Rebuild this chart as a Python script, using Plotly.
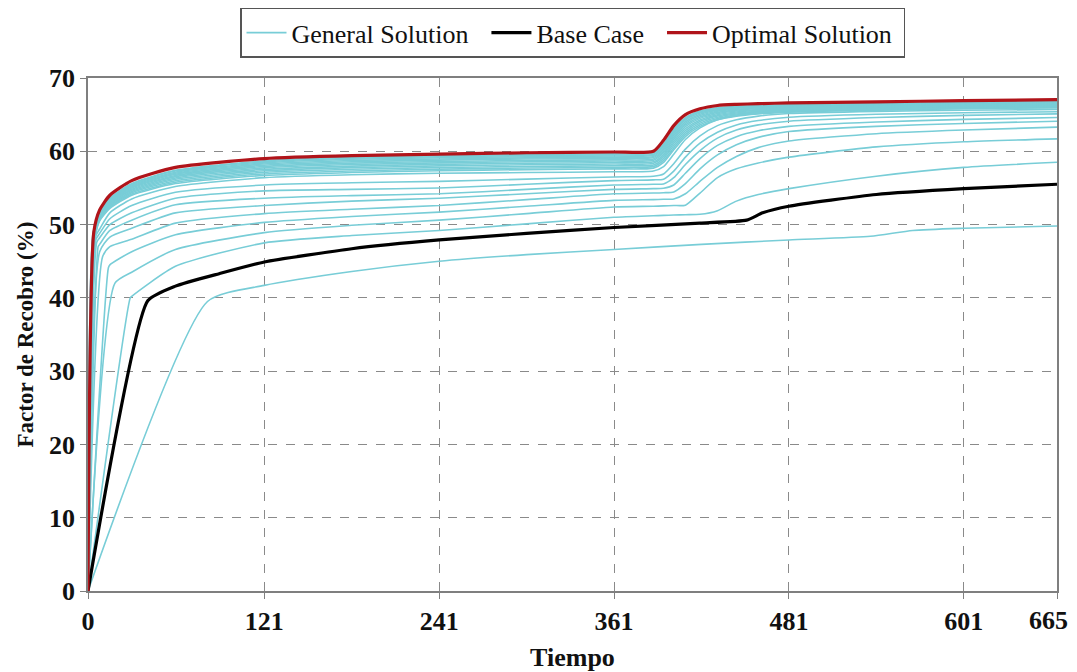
import plotly.graph_objects as go

# ---------------- data ----------------
GRID_T = [8, 15, 30, 60, 121, 181, 241, 301, 361, 388, 395, 402, 410, 420, 432, 445, 460, 481, 541, 601, 665]

# Optimal solution (red)
OPT_KNEE = (4, 49.0)
OPT_VALUES = [52.0, 54.0, 56.0, 57.8, 59.0, 59.4, 59.6, 59.8, 59.9, 60.0, 61.5, 63.5, 65.0, 65.8, 66.25,
              66.4, 66.5, 66.6, 66.75, 66.9, 67.05]

# Base case (black)
BASE_T = [0, 41, 60, 90, 121, 181, 241, 301, 361, 420, 452, 463, 481, 541, 601, 665]
BASE_V = [0, 39.6, 41.6, 43.3, 44.9, 46.7, 47.9, 48.8, 49.6, 50.2, 50.6, 51.6, 52.5, 54.1, 54.9, 55.5]

# General solutions (cyan): knee of the initial ramp, then values on GRID_T (None = before knee)
GEN_KNEE_T = [3.5, 3.6, 3.7, 3.8, 3.9, 4.0, 4.2, 4.4, 4.6, 4.8, 5.0, 5.2,
              5.0, 5.5, 6.0, 7.0, 8.0, 10, 14, 18.5, 29]
GEN_KNEE_V = [48.9, 48.9, 48.8, 48.8, 48.8, 48.7, 48.7, 48.7, 48.6, 48.6, 48.5, 48.5,
              48.3, 48.0, 47.6, 47.0, 46.3, 45.6, 44.1, 42.0, 40.0]
GEN_VALUES = [
    [51.6, 53.6, 55.6, 57.4, 58.7, 59.2, 59.4, 59.55, 59.65, 59.75, 61.0, 63.0, 64.6, 65.5, 65.95, 66.15, 66.25, 66.35, 66.5, 66.65, 66.8],
    [51.5, 53.5, 55.5, 57.3, 58.56, 59.05, 59.26, 59.41, 59.51, 59.61, 60.83, 62.8, 64.42, 65.35, 65.83, 66.06, 66.17, 66.28, 66.44, 66.59, 66.74],
    [51.45, 53.4, 55.38, 57.15, 58.42, 58.91, 59.11, 59.26, 59.36, 59.46, 60.65, 62.61, 64.24, 65.21, 65.72, 65.96, 66.09, 66.21, 66.37, 66.53, 66.68],
    [51.36, 53.29, 55.25, 57.0, 58.26, 58.74, 58.95, 59.1, 59.2, 59.3, 60.45, 62.38, 64.03, 65.04, 65.59, 65.85, 66.0, 66.13, 66.3, 66.46, 66.61],
    [51.27, 53.18, 55.12, 56.86, 58.1, 58.57, 58.79, 58.94, 59.04, 59.14, 60.25, 62.16, 63.82, 64.87, 65.46, 65.75, 65.9, 66.05, 66.23, 66.4, 66.55],
    [51.17, 53.05, 54.98, 56.7, 57.92, 58.38, 58.6, 58.75, 58.85, 58.95, 60.03, 61.91, 63.59, 64.68, 65.31, 65.62, 65.8, 65.96, 66.15, 66.32, 66.47],
    [51.07, 52.93, 54.83, 56.54, 57.74, 58.19, 58.42, 58.57, 58.67, 58.77, 59.8, 61.66, 63.35, 64.49, 65.16, 65.5, 65.7, 65.87, 66.07, 66.24, 66.39],
    [50.96, 52.79, 54.67, 56.36, 57.54, 57.98, 58.21, 58.36, 58.46, 58.56, 59.55, 61.38, 63.09, 64.28, 64.99, 65.37, 65.58, 65.77, 65.98, 66.16, 66.31],
    [50.85, 52.65, 54.51, 56.18, 57.34, 57.77, 58.01, 58.16, 58.26, 58.36, 59.3, 61.1, 62.83, 64.07, 64.83, 65.23, 65.47, 65.67, 65.89, 66.07, 66.22],
    [50.73, 52.49, 54.34, 55.98, 57.12, 57.54, 57.78, 57.93, 58.03, 58.13, 59.03, 60.79, 62.55, 63.84, 64.65, 65.08, 65.34, 65.56, 65.79, 65.98, 66.13],
    [50.61, 52.34, 54.16, 55.78, 56.9, 57.31, 57.56, 57.71, 57.81, 57.91, 58.75, 60.48, 62.26, 63.61, 64.47, 64.94, 65.22, 65.45, 65.69, 65.89, 66.04],
    [50.5, 52.2, 54.0, 55.6, 56.7, 57.1, 57.35, 57.5, 57.6, 57.7, 58.5, 60.2, 62.0, 63.4, 64.3, 64.8, 65.1, 65.35, 65.6, 65.8, 65.95],
    [49.4, 51.6, 53.5, 55.2, 56.4, 56.8, 57.0, 57.1, 57.2, 57.3, 57.9, 59.6, 61.6, 63.2, 64.3, 64.9, 65.3, 65.55, 65.75, 65.85, 65.95],
    [48.8, 50.8, 52.6, 54.4, 55.4, 55.7, 55.9, 56.2, 56.5, 56.6, 56.9, 58.3, 60.3, 62.1, 63.5, 64.3, 64.8, 65.15, 65.45, 65.6, 65.7],
    [48.2, 50.0, 51.6, 53.6, 54.6, 54.8, 55.0, 55.5, 56.0, 56.1, 56.2, 57.3, 59.2, 61.1, 62.6, 63.6, 64.2, 64.65, 65.05, 65.25, 65.4],
    [47.3, 49.2, 50.6, 52.7, 53.6, 53.95, 54.2, 54.8, 55.4, 55.5, 55.55, 56.4, 58.2, 60.1, 61.8, 62.9, 63.6, 64.1, 64.6, 64.9, 65.1],
    [None, 48.3, 49.5, 51.6, 52.6, 53.2, 53.6, 54.2, 54.8, 54.9, 54.95, 55.4, 57.0, 59.0, 60.8, 62.0, 62.8, 63.4, 64.0, 64.35, 64.6],
    [None, 47.0, 48.0, 50.2, 51.5, 52.1, 52.6, 53.4, 54.2, 54.3, 54.35, 54.45, 55.6, 57.6, 59.5, 60.9, 61.9, 62.7, 63.4, 63.8, 64.1],
    [None, 44.5, 46.3, 48.6, 50.3, 51.1, 51.7, 52.5, 53.3, 53.4, 53.45, 53.5, 54.2, 55.9, 57.8, 59.3, 60.5, 61.4, 62.4, 62.9, 63.3],
    [None, None, 43.5, 46.6, 48.9, 49.9, 50.6, 51.5, 52.4, 52.5, 52.55, 52.6, 52.65, 54.3, 56.4, 57.6, 58.4, 59.2, 60.6, 61.3, 61.7],
    [None, None, 40.2, 44.3, 47.5, 48.5, 49.2, 50.1, 51.0, 51.2, 51.25, 51.3, 51.35, 51.4, 51.9, 53.2, 54.1, 54.9, 56.6, 57.8, 58.5],
]

# Worst general solution (slowest ramp)
WORST_T = [0, 82, 121, 181, 241, 301, 361, 421, 481, 537, 566, 601, 665]
WORST_V = [0, 39.5, 41.7, 43.6, 45.0, 45.9, 46.6, 47.3, 47.9, 48.4, 49.2, 49.5, 49.8]

X_TICKS = [0, 121, 241, 361, 481, 601, 665]
# the last label (665) is drawn as an annotation so that it stays inside the page
X_TICK_TEXT = ["0", "121", "241", "361", "481", "601", ""]
X_LAST_LABEL = "665"
Y_TICKS = [0, 10, 20, 30, 40, 50, 60, 70]
LEGEND_NAMES = ["General Solution\u00a0\u00a0", "Base Case\u00a0\u00a0", "Optimal Solution\u00a0"]
X_TITLE = "Tiempo"
Y_TITLE = "Factor de Recobro (%)"

# ---------------- styles ----------------
CYAN = "#78cdd7"
BLACK = "#000000"
RED = "#b0141a"
FONT = "Liberation Serif"
SMOOTH = 0.6


def curve(knee_t, knee_v, values):
    xs, ys = [0, knee_t], [0, knee_v]
    for t, v in zip(GRID_T, values):
        if v is not None and t > knee_t:
            xs.append(t)
            ys.append(v)
    return xs, ys


fig = go.Figure()

first = True
for kt, kv, vals in zip(GEN_KNEE_T, GEN_KNEE_V, GEN_VALUES):
    xs, ys = curve(kt, kv, vals)
    fig.add_trace(go.Scatter(x=xs, y=ys, mode="lines", name=LEGEND_NAMES[0],
                             legendgroup="gen", showlegend=first,
                             line=dict(color=CYAN, width=1.6, shape="spline", smoothing=SMOOTH)))
    first = False
fig.add_trace(go.Scatter(x=WORST_T, y=WORST_V, mode="lines", name=LEGEND_NAMES[0],
                         legendgroup="gen", showlegend=False,
                         line=dict(color=CYAN, width=1.6, shape="spline", smoothing=SMOOTH)))

fig.add_trace(go.Scatter(x=BASE_T, y=BASE_V, mode="lines", name=LEGEND_NAMES[1],
                         line=dict(color=BLACK, width=3.2, shape="spline", smoothing=0.5)))

ox, oy = curve(OPT_KNEE[0], OPT_KNEE[1], OPT_VALUES)
fig.add_trace(go.Scatter(x=ox, y=oy, mode="lines", name=LEGEND_NAMES[2],
                         line=dict(color=RED, width=3.2, shape="spline", smoothing=SMOOTH)))

TICK_FONT = dict(family=FONT, size=26, color="#111111", weight="bold")
axis_common = dict(
    showline=True, linecolor="#7f7f7f", linewidth=1.5, mirror=True,
    ticks="outside", ticklen=6, tickcolor="#7f7f7f", tickwidth=1.2,
    showgrid=True, gridcolor="#8a8a8a", griddash="dash", gridwidth=1,
    zeroline=False, automargin=False,
    tickfont=TICK_FONT,
)

fig.update_xaxes(range=[0, 665], tickvals=X_TICKS, ticktext=X_TICK_TEXT,
                 title=dict(text="<b>" + X_TITLE + "</b>",
                            font=dict(family=FONT, size=26, color="#111111"), standoff=22),
                 **axis_common)
fig.update_yaxes(range=[0, 70], tickvals=Y_TICKS, **axis_common)

fig.add_annotation(text="<b>" + X_LAST_LABEL + "</b>", xref="paper", yref="paper",
                   x=1.0134, y=-0.0574, xanchor="right", yanchor="middle",
                   showarrow=False, font=dict(family=FONT, size=26, color="#111111"))

# y-axis title placed as a rotated annotation so it sits close to the page edge
fig.add_annotation(text="<b>" + Y_TITLE + "</b>", textangle=-90,
                   xref="paper", yref="paper", x=-0.065, y=0.5,
                   xanchor="center", yanchor="middle", showarrow=False,
                   font=dict(family=FONT, size=23, color="#111111"))

# The page places the figure at an 8px body offset; the size and margins account for it
fig.update_layout(
    width=1069, height=664,
    margin=dict(l=80, r=20, t=70, b=81, autoexpand=False),
    paper_bgcolor="white", plot_bgcolor="white",
    font=dict(family=FONT, color="#111111"),
    showlegend=True,
    legend=dict(orientation="h", x=0.5, xanchor="center", y=1.137, yanchor="top",
                bordercolor="#555555", borderwidth=1.5, bgcolor="white",
                font=dict(family=FONT, size=26, color="#111111"),
                itemwidth=40, traceorder="normal"),
    hovermode=False,
)

fig.write_html("out.html")
